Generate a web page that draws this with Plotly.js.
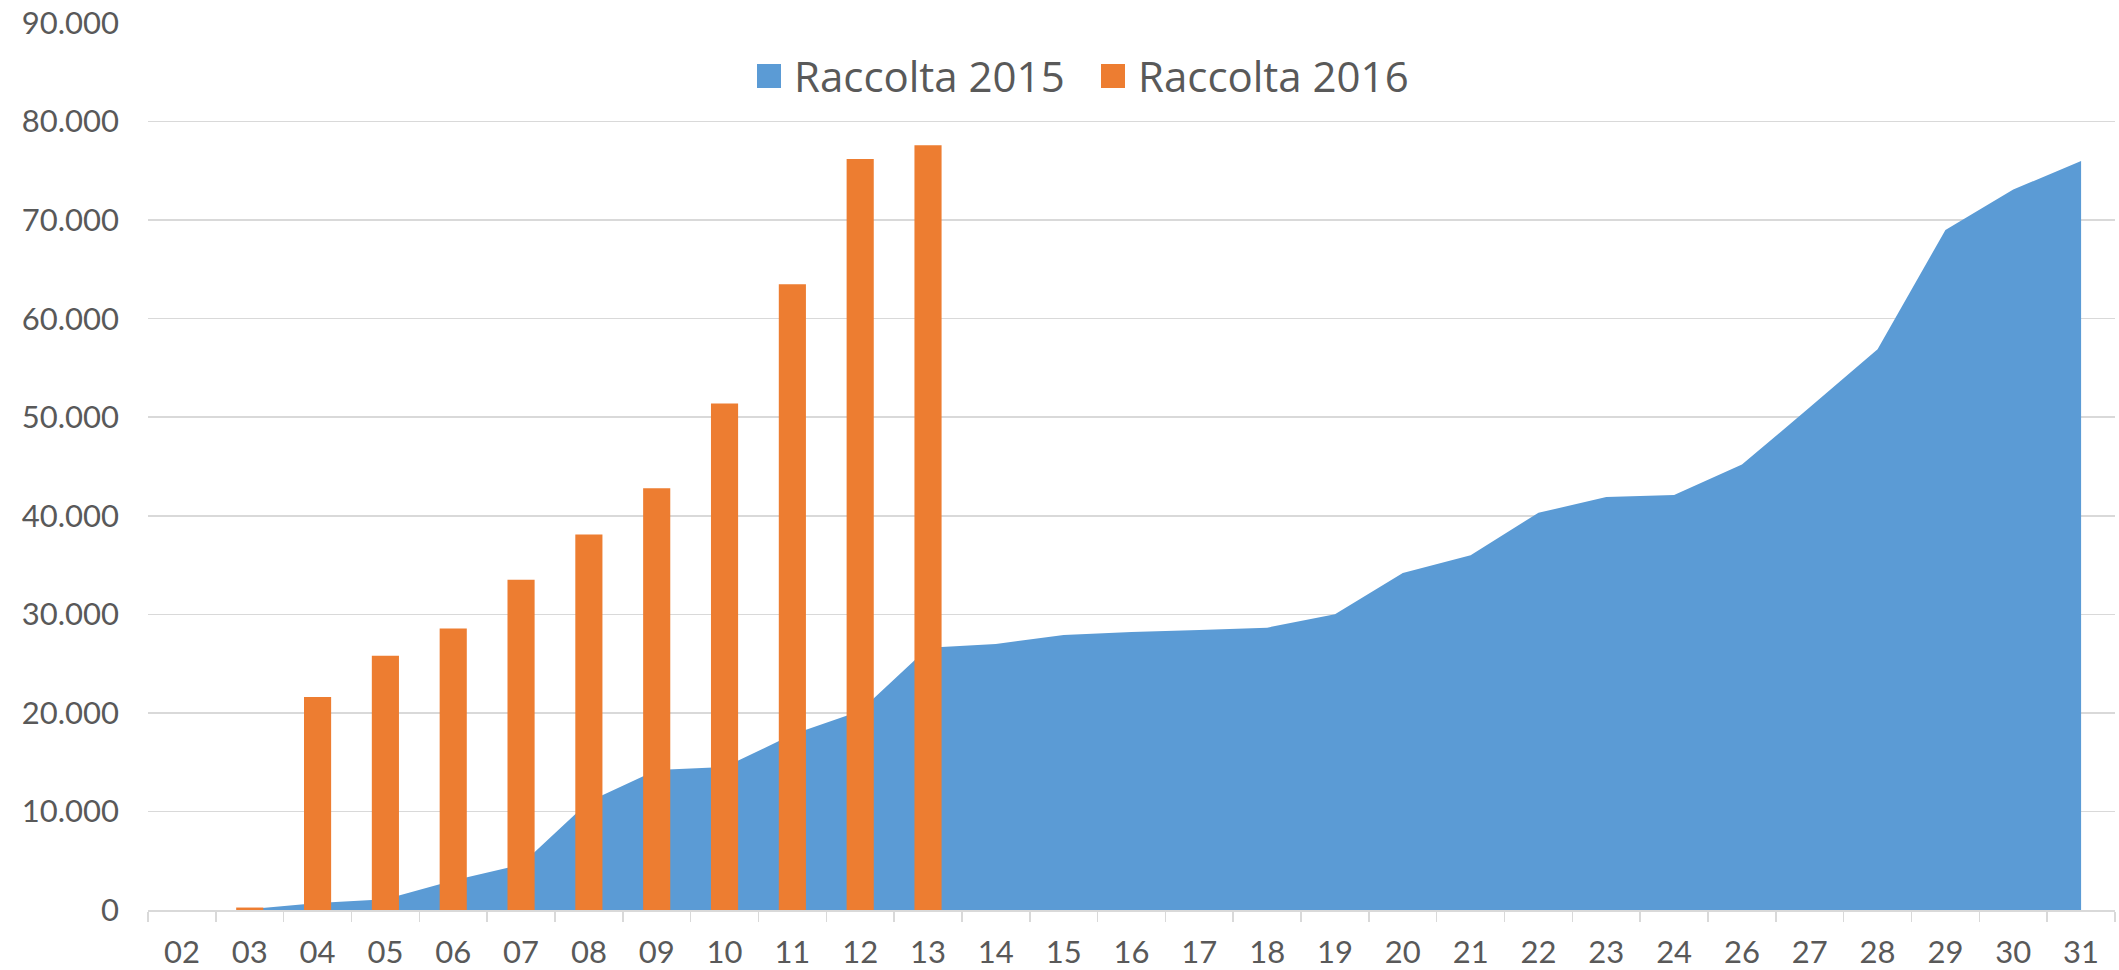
<!DOCTYPE html>
<html>
<head>
<meta charset="utf-8">
<script src="https://cdn.plot.ly/plotly-3.0.1.min.js"></script>
<style>
html,body{margin:0;padding:0;background:#ffffff;}
#chart{width:2119px;height:970px;}
</style>
</head>
<body>
<div id="chart"></div>
<script>
// ---- data ----
const days = ['02','03','04','05','06','07','08','09','10','11','12','13','14','15','16','17','18','19','20','21','22','23','24','26','27','28','29','30','31'];
const raccolta2015 = [null,100,700,1100,3000,4600,11000,14200,14500,17800,20200,26600,27000,27900,28200,28400,28650,30000,34200,36000,40300,41900,42100,45200,51000,56900,69000,73100,76000];
const raccolta2016 = [0,250,21600,25800,28550,33500,38100,42800,51400,63500,76200,77600,null,null,null,null,null,null,null,null,null,null,null,null,null,null,null,null,null];
const seriesNames = ['Raccolta 2015','Raccolta 2016'];
const yTicks = [0,10000,20000,30000,40000,50000,60000,70000,80000,90000];

// ---- style ----
const BLUE = '#5B9BD5';
const ORANGE = '#ED7D31';
const TEXT = '#595959';
const GRID = '#D9D9D9';
const FONT = 'Lato, "Open Sans", sans-serif';
const LEGEND_FONT = '"Open Sans", Lato, sans-serif';

const traces = [
  {
    type:'scatter', mode:'lines', x: days, y: raccolta2015, name: seriesNames[0],
    fill:'tozeroy', fillcolor: BLUE, line:{width:0, color: BLUE},
    xaxis:'x', yaxis:'y', hoverinfo:'x+y', showlegend:false
  },
  {
    type:'bar', x: days, y: raccolta2016, name: seriesNames[1],
    marker:{color: ORANGE}, width:0.4,
    xaxis:'x2', yaxis:'y2', showlegend:false
  }
];

const L = 148, R = 4, T = 23, B = 60, W = 2119, H = 970;
const pw = W - L - R, ph = H - T - B;
const px = v => (v - L) / pw;
const py = v => (H - B - v) / ph;

const layout = {
  width: W, height: H,
  margin:{l:L, r:R, t:T, b:B, pad:0},
  paper_bgcolor:'#ffffff', plot_bgcolor:'#ffffff',
  font:{family: FONT, color: TEXT, size: 31},
  showlegend:false,
  xaxis:{
    type:'category', categoryorder:'array', categoryarray: days,
    range:[-0.5, days.length - 0.5],
    showgrid:false, zeroline:false,
    showline:true, linecolor: GRID, linewidth:1.5,
    ticks:'outside', ticklen:10, tickwidth:1.5, tickcolor: GRID,
    tickson:'boundaries',
    tickfont:{family: FONT, size:31, color: TEXT},
    ticklabelstandoff: 14,
    fixedrange:true
  },
  yaxis:{
    range:[0, 90000], tickvals: yTicks, tickformat:',d',
    showgrid:true, gridcolor: GRID, gridwidth:1.5,
    zeroline:false, showline:false, ticks:'',
    tickfont:{family: FONT, size:31, color: TEXT},
    ticklabelstandoff: 28,
    fixedrange:true
  },
  xaxis2:{
    type:'category', categoryorder:'array', categoryarray: days,
    range:[-0.5, days.length - 0.5],
    overlaying:'x', anchor:'y2', visible:false, fixedrange:true
  },
  yaxis2:{
    range:[0, 90000], overlaying:'y', anchor:'x2', visible:false, fixedrange:true
  },
  separators:',.',
  shapes:[
    {type:'rect', xref:'paper', yref:'paper', x0:px(757), x1:px(781), y0:py(88), y1:py(64), fillcolor:BLUE, line:{width:0}},
    {type:'rect', xref:'paper', yref:'paper', x0:px(1101), x1:px(1125), y0:py(88), y1:py(64), fillcolor:ORANGE, line:{width:0}}
  ],
  annotations:[
    {xref:'paper', yref:'paper', x:px(792), y:py(76), xanchor:'left', yanchor:'middle', showarrow:false,
     text: seriesNames[0], font:{family: LEGEND_FONT, size:42, color: TEXT}},
    {xref:'paper', yref:'paper', x:px(1136), y:py(76), xanchor:'left', yanchor:'middle', showarrow:false,
     text: seriesNames[1], font:{family: LEGEND_FONT, size:42, color: TEXT}}
  ]
};

Plotly.newPlot('chart', traces, layout, {displayModeBar:false, staticPlot:true});
</script>
</body>
</html>
